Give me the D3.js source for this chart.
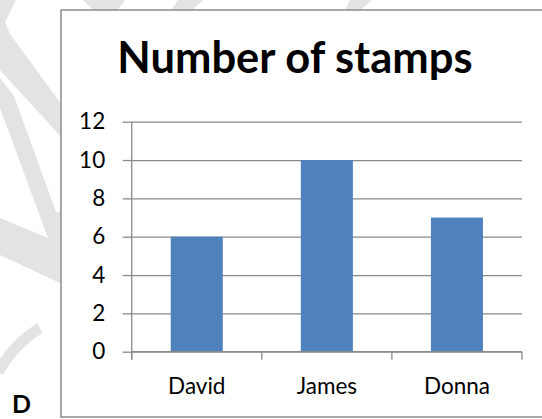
<!DOCTYPE html>
<html>
<head>
<meta charset="utf-8">
<script src="https://cdn.jsdelivr.net/npm/d3@7"></script>
<style>
  html, body { margin: 0; padding: 0; background: #ffffff; }
  svg { display: block; }
  text { font-family: Lato, "Open Sans", sans-serif; fill: #000; }
</style>
</head>
<body>
<svg id="chart" width="542" height="419"></svg>
<script>
// Chart data
const title = "Number of stamps";
const names = ["David", "James", "Donna"];
const stamps = [6, 10, 7];
const yTicks = [0, 2, 4, 6, 8, 10, 12];
const cornerLabel = "D";

const svg = d3.select("#chart");

// Faint background watermark strokes (partly hidden by the chart frame)
const wm = svg.append("g").attr("fill", "#e3e3e3");
const wmShapes = [
  [[0,0],[16,0],[5,22],[10,34],[64,108],[64,140],[0,70]],
  [[0,78],[14,96],[56,212],[64,215],[48,238],[0,108]],
  [[0,218],[48,238],[64,200],[64,285],[0,255]],
  [[83,0],[125,0],[116,12],[95,12]],
  [[178,0],[203,0],[190,12],[170,12]],
  [[350,0],[372,0],[358,12],[344,12]]
];
wm.selectAll("polygon").data(wmShapes).join("polygon")
  .attr("points", d => d.map(p => p.join(",")).join(" "));
svg.append("path")
  .attr("d", "M-2,372 Q14,344 40,328")
  .attr("fill", "none").attr("stroke", "#e3e3e3").attr("stroke-width", 11);

// Chart frame
svg.append("rect")
  .attr("x", 61).attr("y", 10)
  .attr("width", 520).attr("height", 407)
  .attr("fill", "#fff").attr("stroke", "#8c8c8c").attr("stroke-width", 1.5);

// Title
svg.append("text")
  .attr("x", 295).attr("y", 73)
  .attr("text-anchor", "middle")
  .attr("font-weight", "bold")
  .attr("font-size", 43.5)
  .text(title);

// Plot area
const plot = { left: 131.7, right: 522, top: 121.7, bottom: 351.7 };
const x = d3.scaleBand().domain(names).range([plot.left, plot.right]).paddingInner(0).paddingOuter(0);
const y = d3.scaleLinear().domain([0, 12]).range([plot.bottom, plot.top]);
const grid = "#8a8a8a";
const labelSize = 22.5;

// Gridlines
svg.append("g")
  .attr("transform", `translate(${plot.left},0)`)
  .call(d3.axisLeft(y).tickValues(yTicks).tickSize(-(plot.right - plot.left)).tickFormat(""))
  .call(g => g.select(".domain").remove())
  .call(g => g.selectAll("line").attr("stroke", grid).attr("stroke-width", 1.3));

// Bars
const barW = x.bandwidth() * 0.4;
svg.append("g").selectAll("rect").data(names).join("rect")
  .attr("x", d => x(d) + (x.bandwidth() - barW) / 2)
  .attr("width", barW)
  .attr("y", (d, i) => y(stamps[i]))
  .attr("height", (d, i) => y(0) - y(stamps[i]))
  .attr("fill", "#4f81bd");

// Y axis with outward ticks and labels
svg.append("g")
  .attr("transform", `translate(${plot.left},0)`)
  .call(d3.axisLeft(y).tickValues(yTicks).tickSizeInner(9).tickSizeOuter(0).tickPadding(17.5))
  .call(g => g.select(".domain").remove())
  .call(g => g.selectAll("line").attr("stroke", grid).attr("stroke-width", 1.3))
  .call(g => g.selectAll("text").attr("font-size", labelSize).attr("font-family", "Lato").attr("fill", "#000"));
svg.append("line")
  .attr("x1", plot.left).attr("x2", plot.left)
  .attr("y1", plot.top).attr("y2", plot.bottom + 8)
  .attr("stroke", grid).attr("stroke-width", 1.3);

// X axis: ticks on category boundaries, labels centred in each band
const bounds = names.map(n => x(n)).concat([x(names[names.length - 1]) + x.bandwidth()]);
svg.append("line")
  .attr("x1", plot.left).attr("x2", plot.right)
  .attr("y1", plot.bottom).attr("y2", plot.bottom)
  .attr("stroke", grid).attr("stroke-width", 1.3);
svg.append("g").selectAll("line").data(bounds).join("line")
  .attr("x1", d => d).attr("x2", d => d)
  .attr("y1", plot.bottom).attr("y2", plot.bottom + 8)
  .attr("stroke", grid).attr("stroke-width", 1.3);
svg.append("g")
  .attr("transform", `translate(0,${plot.bottom})`)
  .call(d3.axisBottom(x).tickSize(0).tickPadding(26))
  .call(g => g.select(".domain").remove())
  .call(g => g.selectAll("text").attr("font-size", labelSize).attr("font-family", "Lato").attr("fill", "#000"));

// Corner label
svg.append("text")
  .attr("x", 12).attr("y", 413)
  .attr("font-weight", "bold")
  .attr("font-size", 25)
  .text(cornerLabel);
</script>
</body>
</html>
